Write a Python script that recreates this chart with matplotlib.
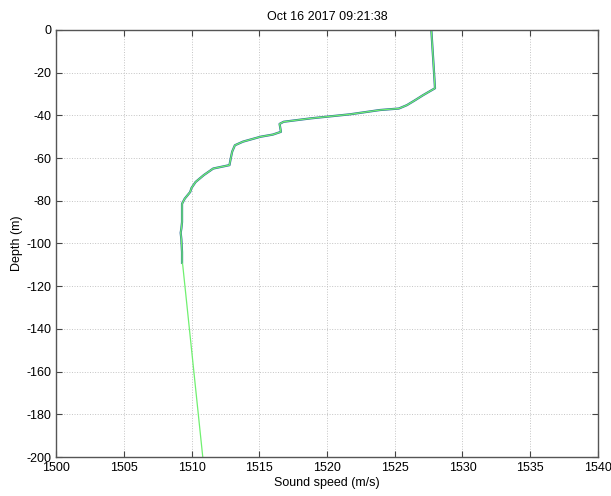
import numpy as np
import matplotlib
matplotlib.use("Agg")
import matplotlib.pyplot as plt

# measured sound speed profile
depth = [0, -5, -10, -15, -20, -27.3, -30.5, -32.9, -35.2, -36.8, -37.5, -39.5,
         -41.4, -43, -44, -47.7, -49, -50, -52.3, -54, -57, -60, -63.3, -64.9,
         -68, -71.2, -74, -75.9, -79, -81.4, -90, -93, -95, -98, -104, -109]
speed = [1527.7, 1527.75, 1527.8, 1527.85, 1527.9, 1527.97, 1527.1, 1526.5,
         1525.9, 1525.3, 1523.9, 1521.7, 1518.8, 1516.8, 1516.5, 1516.6, 1516.0,
         1515.1, 1513.8, 1513.2, 1513.0, 1512.9, 1512.8, 1511.6, 1510.9, 1510.3,
         1510.0, 1509.9, 1509.5, 1509.3, 1509.3, 1509.25, 1509.2, 1509.25, 1509.3,
         1509.3]

# profile extended down to the bottom
ext_depth = depth + [-110, -200]
ext_speed = speed + [1509.35, 1510.83]

xticks = [1500, 1505, 1510, 1515, 1520, 1525, 1530, 1535, 1540]
yticks = list(range(0, -201, -20))

plt.rcParams['font.family'] = ['Liberation Sans', 'DejaVu Sans']
plt.rcParams['axes.unicode_minus'] = False

fig = plt.figure(figsize=(6.11, 4.96), dpi=100)
ax = fig.add_axes([0.0917, 0.0786, 0.887, 0.861])

ax.plot(speed, depth, color='#2a6a9a', lw=1.6)
ax.plot(ext_speed, ext_depth, color='#70f070', lw=0.9)

ax.set_xlim(1500, 1540)
ax.set_ylim(-200, 0)
ax.set_xticks(xticks)
ax.set_yticks(yticks)
ax.tick_params(direction='in', length=4, labelsize=9, colors='#444444',
               top=True, right=True, labelcolor='black')
ax.grid(True, color='#c4c4c4', linestyle=':', linewidth=0.7)
for s in ax.spines.values():
    s.set_color('#555555')
    s.set_linewidth(1.0)

ax.set_xlabel('Sound speed (m/s)', fontsize=9, labelpad=2)
ax.set_ylabel('Depth (m)', fontsize=9, labelpad=2)
ax.set_title('Oct 16 2017 09:21:38', fontsize=9, pad=7)

fig.savefig('out.png', dpi=100)
